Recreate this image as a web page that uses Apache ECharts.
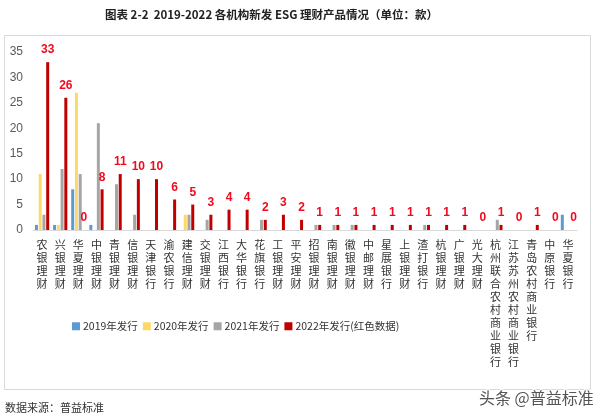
<!DOCTYPE html>
<html>
<head>
<meta charset="utf-8">
<script src="https://cdn.jsdelivr.net/npm/echarts@6/dist/echarts.min.js"></script>
<style>
html,body{margin:0;padding:0;background:#fff;}
#c{width:600px;height:420px;}
</style>
</head>
<body>
<div id="c"></div>
<script>
const categories = ['农银理财','兴银理财','华夏理财','中银理财','青银理财','信银理财','天津银行','渝农银行','建信理财','交银理财','江西银行','大华银行','花旗银行','工银理财','平安理财','招银理财','南银理财','徽银理财','中邮理财','星展银行','上银理财','渣打银行','杭银理财','广银理财','光大理财','杭州联合农村商业银行','江苏苏州农村商业银行','青岛农村商业银行','中原银行','华夏银行'];
const s2019 = [1,1,8,1,0,0,0,0,0,0,0,0,0,0,0,0,0,0,0,0,0,0,0,0,0,0,0,0,0,3];
const s2020 = [11,1,27,0,0,0,0,0,3,0,0,0,0,0,0,0,0,0,0,0,0,0,0,0,0,0,0,0,0,0];
const s2021 = [3,12,11,21,9,3,0,0,3,2,0,0,2,0,0,1,1,1,0,0,0,1,0,0,0,2,0,0,0,0];
const s2022 = [33,26,0,8,11,10,10,6,5,3,4,4,2,3,2,1,1,1,1,1,1,1,1,1,0,1,0,1,0,0];
const yTicks = [0,5,10,15,20,25,30,35];
const seriesNames = ['2019年发行','2020年发行','2021年发行','2022年发行(红色数据)'];
const colors = ['#5B9BD5','#FFD966','#A5A5A5','#C00000'];

const chart = echarts.init(document.getElementById('c'), null, {renderer:'canvas'});
const cjk = '"Noto Sans CJK SC", "Noto Sans", sans-serif';
function mk(i, data){
  const s = {name: seriesNames[i], type:'bar', data: data, barWidth: 3, barGap:'25%',
    itemStyle:{color: colors[i]}};
  if(i===3){
    s.label = {show:true, position:'top', distance:6, color:'#F00A1E', fontWeight:'bold', fontSize:12, fontFamily:'Arial, sans-serif'};
  }
  return s;
}
chart.setOption({
  animation:false,
  textStyle:{fontFamily: cjk},
  title:{text:'图表 2-2  2019-2022 各机构新发 ESG 理财产品情况（单位：款）', left:100, top:4,
    textStyle:{fontSize:11.5, fontWeight:'bold', color:'#222', fontFamily: cjk}},
  graphic:[
    {type:'rect', shape:{x:4.5,y:35.5,width:586,height:354}, style:{fill:'none', stroke:'#D9D9D9', lineWidth:1}, silent:true, z:-1},
    {type:'text', left:5, top:402, style:{text:'数据来源：普益标准', fill:'#333', font:'11px '+cjk}},
    {type:'text', left:478, top:389, style:{text:'头条 @普益标准', fill:'#555', font:'16px '+cjk, stroke:'#fff', lineWidth:2}}
  ],
  legend:{data:seriesNames, left:67, top:316, itemWidth:8, itemHeight:8, itemGap:5, icon:'rect',
    textStyle:{fontSize:10.5, color:'#333', padding:[0,0,0,-2]}},
  grid:{left:33, right:23, top:52, bottom:190, containLabel:false},
  xAxis:{type:'category', data:categories,
    axisLine:{lineStyle:{color:'#D9D9D9'}}, axisTick:{show:false},
    axisLabel:{interval:0, fontSize:11, lineHeight:13, color:'#333', margin:8,
      formatter: v => v.split('').join('\n')}},
  yAxis:{type:'value', min:0, max:35, interval:5,
    axisLine:{show:false}, axisTick:{show:false}, splitLine:{show:false},
    axisLabel:{fontSize:12, color:'#595959', margin:10, fontFamily:'Arial, sans-serif'}},
  series:[mk(0,s2019), mk(1,s2020), mk(2,s2021), mk(3,s2022)]
});
</script>
</body>
</html>
